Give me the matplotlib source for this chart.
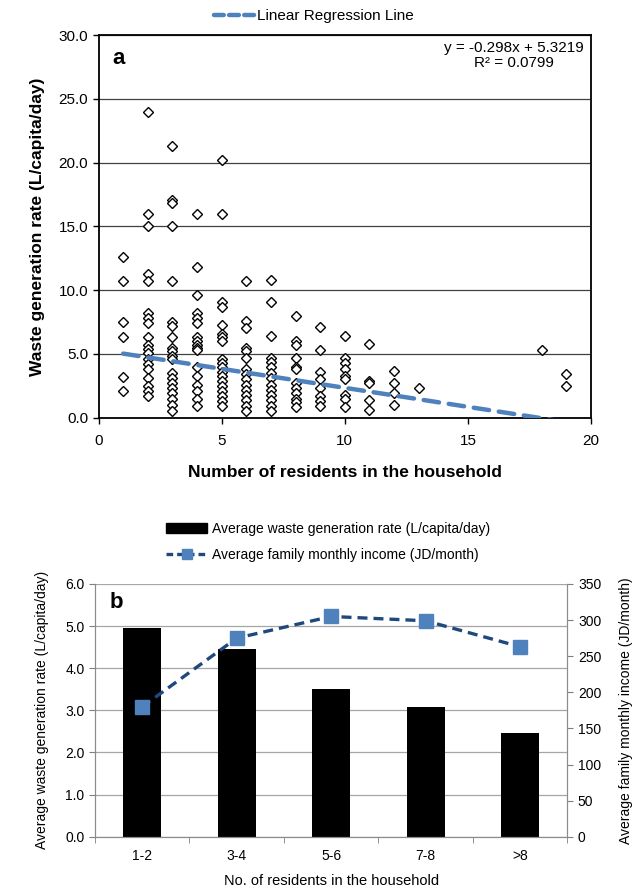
#!/usr/bin/env python3
"""
Waste generation rate vs household size: (a) scatter with regression,
(b) bar + income line by household size group.
"""

import matplotlib
matplotlib.use("Agg")
import matplotlib.pyplot as plt
from matplotlib.lines import Line2D
from matplotlib.patches import Patch
import numpy as np

plt.rcParams['font.family'] = ['Liberation Sans', 'DejaVu Sans']

# --- panel a data: waste rate (L/capita/day) per household size ---
household_sizes = [1, 2, 3, 4, 5, 6, 7, 8, 9, 10, 11, 12, 13, 18, 19]
waste_rates = [
    [12.6, 10.7, 7.5, 6.3, 3.2, 2.1],
    [24.0, 16.0, 15.0, 11.3, 10.7, 8.2, 7.8, 7.4, 6.3, 5.7, 5.4, 5.1, 4.6, 4.2, 3.8, 3.1, 2.5, 2.1, 1.7],
    [21.3, 17.1, 16.8, 15.0, 10.7, 7.5, 7.2, 6.3, 5.5, 5.2, 4.8, 4.6, 3.5, 3.1, 2.7, 2.3, 1.9, 1.5, 1.0, 0.5],
    [16.0, 11.8, 9.6, 8.2, 7.8, 7.4, 6.3, 6.0, 5.7, 5.5, 5.3, 4.0, 3.3, 2.6, 2.1, 1.5, 0.9],
    [20.2, 16.0, 9.1, 8.7, 7.3, 6.6, 6.3, 6.0, 4.6, 4.3, 4.0, 3.6, 3.3, 2.9, 2.5, 2.1, 1.7, 1.3, 0.9],
    [10.7, 7.6, 7.0, 5.5, 5.2, 4.7, 3.8, 3.4, 3.0, 2.6, 2.2, 1.8, 1.4, 0.9, 0.5],
    [10.8, 9.1, 6.4, 4.7, 4.4, 4.0, 3.5, 3.1, 2.6, 2.2, 1.8, 1.4, 0.9, 0.5],
    [8.0, 6.0, 5.7, 4.7, 4.0, 3.8, 2.7, 2.3, 1.9, 1.5, 1.2, 0.8],
    [7.1, 5.3, 3.6, 3.0, 2.3, 1.7, 1.3, 0.9],
    [6.4, 4.7, 4.3, 3.8, 3.3, 3.0, 1.8, 1.5, 0.8],
    [5.8, 2.9, 2.7, 1.4, 0.6],
    [3.7, 2.7, 1.9, 1.0],
    [2.3],
    [5.3],
    [3.4, 2.5],
]
reg_slope = -0.298
reg_intercept = 5.3219
reg_r2 = 0.0799

# --- panel b data ---
size_groups = ['1-2', '3-4', '5-6', '7-8', '>8']
avg_waste_rate = [4.95, 4.46, 3.51, 3.09, 2.46]
avg_income = [180, 275, 305, 299, 263]

fig = plt.figure(figsize=(6.44, 8.91), dpi=100)

# ===================== panel a =====================
ax1 = fig.add_axes([0.1531, 0.5312, 0.7646, 0.4295])
xs = []
ys = []
for n, vals in zip(household_sizes, waste_rates):
    xs.extend([n] * len(vals))
    ys.extend(vals)

ax1.plot(xs, ys, 'D', ls='none', mfc='white', mec='black', ms=5.5, mew=1.0,
         zorder=3, clip_on=False)

reg_x = np.array([min(household_sizes), max(household_sizes)])
reg_y = reg_slope * reg_x + reg_intercept
ax1.plot(reg_x, reg_y, color='#4F81BD', lw=3.2, dashes=(3.5, 2.2),
         dash_capstyle='round', zorder=4)

ax1.set_xlim(0, 20)
ax1.set_ylim(0, 30)
ax1.set_xticks(np.arange(0, 21, 5))
ax1.set_yticks(np.arange(0, 31, 5))
ax1.set_yticklabels([f'{v:.1f}' for v in np.arange(0, 31, 5)])
ax1.yaxis.grid(True, color='#404040', lw=0.9)
ax1.set_axisbelow(True)
for sp in ax1.spines.values():
    sp.set_color('black')
    sp.set_linewidth(1.3)
ax1.tick_params(direction='out', length=4, width=1, labelsize=11)
ax1.tick_params(axis='x', pad=8)

ax1.set_xlabel('Number of residents in the household', fontsize=12.5,
               fontweight='bold', labelpad=12)
ax1.set_ylabel('Waste generation rate (L/capita/day)', fontsize=12.5,
               fontweight='bold', labelpad=10)

ax1.text(0.027, 0.966, 'a', transform=ax1.transAxes, fontsize=16,
         fontweight='bold', ha='left', va='top')
ax1.text(0.985, 0.985,
         f'y = {reg_slope}x + {reg_intercept}\nR² = {reg_r2}',
         transform=ax1.transAxes, fontsize=11, ha='right', va='top',
         multialignment='center', linespacing=1.1)

reg_handle = Line2D([0], [0], color='#4F81BD', lw=3.2, dashes=(2.2, 1.2),
                    dash_capstyle='round')
fig.legend(handles=[reg_handle], labels=['Linear Regression Line'],
           loc='center', bbox_to_anchor=(0.487, 0.982), frameon=False,
           fontsize=11, handlelength=2.6, handletextpad=0.2)

# ===================== panel b =====================
ax2 = fig.add_axes([0.1475, 0.0609, 0.7337, 0.2837])
pos = np.arange(len(size_groups))
ax2.bar(pos, avg_waste_rate, width=0.4, color='black', zorder=2)

ax2.set_xlim(-0.5, len(size_groups) - 0.5)
ax2.set_ylim(0, 6)
ax2.set_yticks(np.arange(0, 7, 1))
ax2.set_yticklabels([f'{v:.1f}' for v in np.arange(0, 7, 1)])
ax2.set_xticks(pos)
ax2.set_xticklabels(size_groups)
ax2.set_xticks(np.arange(-0.5, len(size_groups), 1), minor=True)
ax2.tick_params(axis='x', which='major', length=0, pad=9, labelsize=10)
ax2.tick_params(axis='x', which='minor', length=4, direction='out', color='#7f7f7f')
ax2.tick_params(axis='y', length=4, direction='out', color='#7f7f7f', labelsize=10)
ax2.yaxis.grid(True, color='#a6a6a6', lw=0.9)
ax2.set_axisbelow(True)
ax2.spines['top'].set_visible(False)
for s in ['left', 'bottom', 'right']:
    ax2.spines[s].set_color('#8c8c8c')

ax2.set_xlabel('No. of residents in the household', fontsize=10.5, labelpad=8)
ax2.set_ylabel('Average waste generation rate (L/capita/day)', fontsize=10,
               labelpad=12)

ax3 = ax2.twinx()
ax3.plot(pos, avg_income, color='#1F497D', lw=2.4, dashes=(3, 1.8),
         marker='s', ms=9.5, mfc='#4F81BD', mec='#4F81BD', zorder=3)
ax3.set_ylim(0, 350)
ax3.set_yticks(np.arange(0, 351, 50))
ax3.tick_params(axis='y', length=4, direction='out', color='#7f7f7f', labelsize=10)
ax3.spines['top'].set_visible(False)
for s in ['left', 'bottom', 'right']:
    ax3.spines[s].set_color('#8c8c8c')
ax3.set_ylabel('Average family monthly income (JD/month)', fontsize=10,
               labelpad=13)

ax2.text(0.03, 0.97, 'b', transform=ax2.transAxes, fontsize=16,
         fontweight='bold', ha='left', va='top')

bar_handle = Patch(facecolor='black', edgecolor='black')
inc_handle = Line2D([0], [0], color='#1F497D', lw=2.4, dashes=(2, 1.2),
                    marker='s', ms=7, mfc='#4F81BD', mec='#4F81BD')
fig.legend(handles=[bar_handle, inc_handle],
           labels=['Average waste generation rate (L/capita/day)',
                   'Average family monthly income (JD/month)'],
           loc='center left', bbox_to_anchor=(0.238, 0.392), frameon=False,
           fontsize=10, handlelength=3.0, handleheight=0.7,
           handletextpad=0.3, labelspacing=0.85)

fig.savefig('out.png', dpi=100)
plt.close(fig)
